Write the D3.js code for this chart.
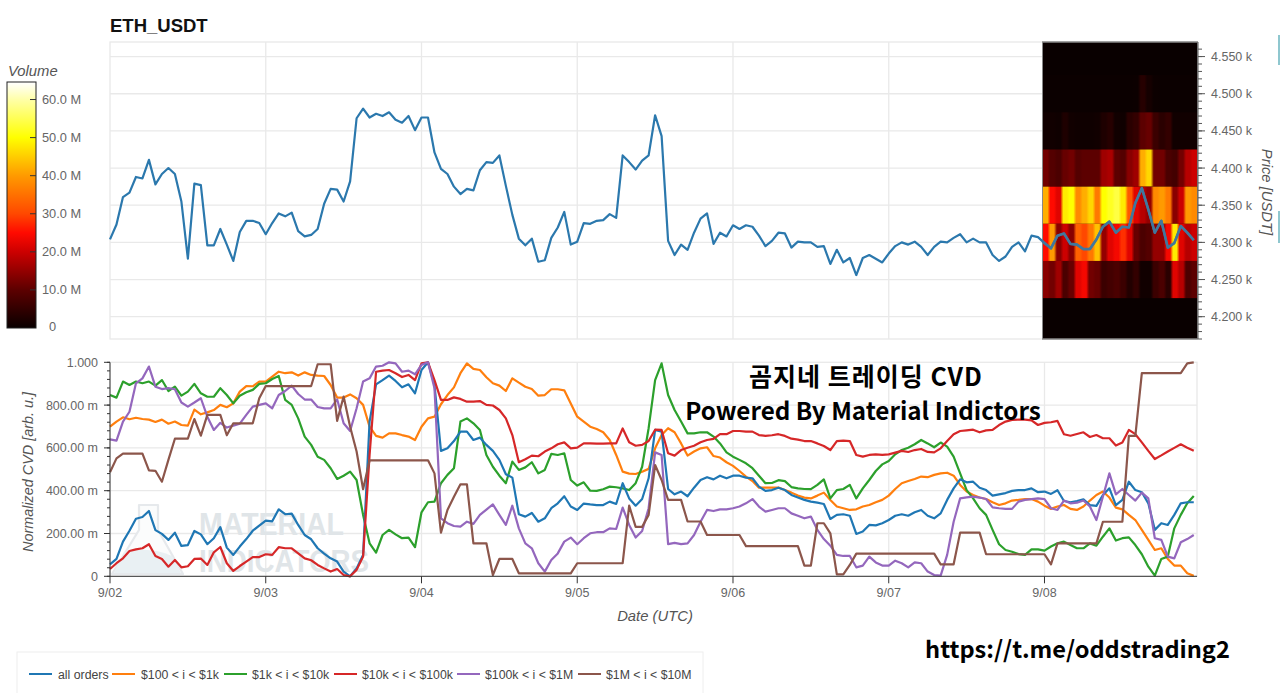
<!DOCTYPE html>
<html><head><meta charset="utf-8">
<script src="https://cdn.jsdelivr.net/npm/d3@7"></script>
<style>html,body{margin:0;padding:0;background:#fff;overflow:hidden}svg{display:block}text{font-family:"Liberation Sans",Arial,sans-serif}</style>
</head><body><svg id="c" width="1280" height="693"></svg>
<script>
const title="ETH_USDT";
const price=[4304,4324,4361,4367,4388,4386,4411,4378,4392,4400,
4392,4355,4278,4379,4377,4296,4296,4318,4297,4275,
4314,4329,4329,4326,4311,4326,4339,4335,4340,4315,
4308,4310,4318,4352,4372,4371,4355,4382,4467,4480,
4468,4473,4470,4475,4465,4461,4470,4451,4468,4468,
4421,4399,4392,4375,4365,4372,4370,4397,4408,4407,
4417,4376,4337,4305,4296,4305,4274,4276,4306,4320,
4341,4297,4301,4326,4325,4329,4330,4338,4333,4417,
4408,4398,4410,4417,4471,4443,4302,4283,4297,4290,
4313,4332,4339,4298,4313,4308,4323,4318,4323,4321,
4309,4295,4302,4313,4312,4293,4301,4300,4300,4294,
4295,4271,4290,4273,4279,4256,4279,4283,4278,4273,
4285,4295,4300,4297,4301,4294,4283,4294,4301,4300,
4306,4311,4300,4305,4300,4300,4283,4275,4281,4294,
4300,4288,4309,4307,4299,4292,4309,4312,4298,4297,
4291,4291,4304,4321,4328,4313,4321,4320,4353,4373,
4344,4313,4329,4293,4299,4322,4313,4303];
const allOrders=[56,81,162,213,269,277,305,216,198,170,
204,142,146,212,196,150,178,230,134,100,
139,174,213,237,260,257,313,290,293,240,
193,173,131,106,84,69,22,0,37,100,
723,897,917,938,913,883,897,855,964,1000,
894,586,598,632,676,676,637,648,614,586,
544,477,461,290,279,296,255,271,318,341,
374,326,310,340,336,333,333,349,338,435,
364,330,361,458,684,676,408,383,396,374,
414,450,463,453,470,458,470,470,461,458,
419,399,403,414,403,380,368,357,349,344,
338,268,287,290,283,198,209,240,238,248,
263,283,290,283,299,310,283,271,294,357,
411,453,439,442,414,403,377,383,389,399,
403,403,411,393,396,385,402,352,346,352,
360,333,329,380,411,333,357,442,403,393,
341,217,248,240,287,341,346,346];
const tier100=[699,723,743,734,741,735,732,721,732,713,
723,707,704,779,757,766,777,801,790,808,
863,889,888,910,910,933,956,949,953,938,
953,941,938,936,894,835,835,850,832,801,
699,656,648,668,668,660,653,637,699,738,
746,804,847,883,949,995,969,964,930,902,
891,866,925,905,886,875,844,847,874,874,
869,808,746,723,699,688,673,637,567,489,
480,478,489,502,598,660,692,673,621,564,
583,598,603,562,555,533,516,492,466,445,
414,414,414,415,403,391,377,368,364,377,
391,357,326,318,310,313,326,333,346,357,
377,408,435,445,455,466,463,474,481,484,
470,427,396,380,368,361,346,333,341,354,
357,361,361,349,330,315,326,333,315,310,
326,354,380,396,368,321,313,287,263,217,
170,123,131,81,50,50,14,2];
const tier1k=[847,835,910,894,910,902,910,891,917,866,
886,844,863,899,855,839,839,879,847,808,
844,860,871,899,902,922,936,824,801,738,
653,614,559,544,505,455,470,489,450,287,
154,111,193,217,196,178,181,136,299,346,
349,435,474,505,723,738,715,684,567,512,
470,435,536,497,509,533,481,497,572,567,
575,450,424,439,400,399,407,419,416,411,
403,435,512,692,917,995,847,777,723,668,
668,673,673,653,621,579,559,544,528,505,
470,435,436,449,445,417,411,408,407,427,
453,364,403,408,427,364,411,450,492,523,
539,570,590,601,617,637,621,603,625,606,
559,481,403,364,318,287,217,150,123,115,
104,100,126,126,120,139,154,162,146,131,
131,154,143,185,224,167,178,182,146,103,
45,3,81,92,224,287,341,375];
const tier10k=[34,61,84,118,126,131,150,95,81,45,
76,42,47,81,83,53,112,137,61,25,
48,69,90,90,103,100,136,131,131,107,
84,75,53,37,22,34,6,0,30,92,
567,956,961,964,949,931,941,917,995,1000,
917,824,824,836,829,816,816,819,801,798,
777,738,660,533,547,564,561,583,598,617,
626,598,601,621,621,620,620,621,621,691,
626,610,614,632,685,684,575,564,590,601,
610,626,637,642,664,664,679,679,676,676,
660,656,659,664,656,643,639,632,632,621,
609,590,632,634,632,567,559,567,570,567,
570,578,586,581,590,595,581,579,598,632,
664,679,682,685,673,682,684,707,723,731,
732,732,729,707,717,720,726,664,657,665,
673,651,660,645,645,611,625,684,664,626,
586,548,565,583,600,617,601,587];
const tier100k=[640,634,723,769,902,925,980,886,875,879,
874,812,793,812,832,746,684,717,695,704,
713,754,793,801,808,785,847,866,891,852,
826,826,791,785,785,827,715,679,785,910,
925,980,984,1000,995,956,961,944,988,1000,
879,271,248,235,232,255,245,287,312,336,
287,240,330,224,154,131,61,22,76,107,
162,181,150,178,201,206,206,224,221,321,
240,181,212,318,579,567,150,156,150,154,
193,255,310,305,313,313,318,326,341,361,
326,302,310,318,318,294,283,271,279,217,
174,143,100,95,95,42,50,92,65,50,
50,73,61,42,65,61,22,6,3,100,
255,364,369,372,368,361,322,318,315,315,
349,357,361,364,361,318,310,354,341,344,
354,326,263,372,481,383,408,380,354,391,
364,178,170,92,84,159,174,193];
const tier1m=[486,551,573,573,573,573,495,493,442,544,
643,643,643,735,657,754,754,754,659,715,
715,715,715,832,889,889,889,889,889,889,
889,889,991,991,991,726,840,699,583,407,
542,542,542,542,542,542,542,542,542,542,
481,204,310,372,430,430,154,154,154,6,
81,81,81,14,14,14,14,14,14,14,
14,14,61,61,61,61,61,61,61,61,
330,231,231,287,520,450,357,357,357,256,
256,256,193,193,193,193,193,193,141,141,
141,141,141,141,141,141,141,50,50,248,
248,201,9,9,53,106,106,106,106,106,
106,106,106,106,106,106,106,106,56,56,
56,204,204,204,204,103,103,103,103,103,
103,103,103,103,103,56,154,154,154,154,
154,154,154,255,255,255,255,656,656,949,
949,949,949,949,949,949,995,1000];
const seriesNames=["all orders","$100 < i < $1k","$1k < i < $10k","$10k < i < $100k","$100k < i < $1M","$1M < i < $10M"];
const seriesColors=["#1f77b4","#ff7f0e","#2ca02c","#d62728","#9467bd","#8c564b"];
const dayLabels=["9/02","9/03","9/04","9/05","9/06","9/07","9/08"];
const priceTicks=[4200,4250,4300,4350,4400,4450,4500,4550];
const cvdTicks=[0,200,400,600,800,1000];
const cvdLabels=["0","200.00 m","400.00 m","600.00 m","800.00 m","1.000"];
const volTicks=[0,10,20,30,40,50,60];
const volLabels=["0","10.0 M","20.0 M","30.0 M","40.0 M","50.0 M","60.0 M"];
// volume by price bucket (M), one value per hour of the last day
const band4500=[.3,.3,.3,.3,.3,.3,.3,.3,.3,.3,.3,.3,.3,.3,.4,3.5,1.5,.4,.3,.3,.3,.3,.3,.3];
const band4450=[1,1,.7,2.5,1,.7,.7,.7,1,2.5,3.5,1,.7,4,5,10,11,6,4,5,1,1,1,1];
const band4400=[12,9,8,11,12,9,10,10,10,16,17,10,9,14,16,42,46,12,12,8,7,12,18,20];
const band4350=[42,25,22,48,50,38,42,46,36,50,52,54,48,32,22,18,15,38,40,36,14,20,40,38];
const band4300=[25,40,14,20,14,33,30,36,44,15,22,24,28,22,11,8,9,15,15,24,48,22,18,20];
const band4250=[14,12,16,8,11,22,24,12,11,6,7,8,6,3,5,1,1,6,8,4,22,18,8,10];
const bandCenters=[4500,4450,4400,4350,4300,4250];
const bands=[band4500,band4450,band4400,band4350,band4300,band4250];
const hotDomain=[0,10,20,25,30,40,50,60,64.5];
const hotColors=["#090000","#5c0000","#cc0000","#ff0a00","#ff4800","#ff9a00","#ffff00","#ffffa8","#ffffff"];

const svg=d3.select("#c");
const defs=svg.append("defs");
const L=110,R=1197,T1=42,B1=339,T2=362.3,B2=576.3;
const t0=Date.UTC(2025,8,2);
const H=3600e3;
const dates=price.map((_,i)=>new Date(t0+i*H));
const x=d3.scaleUtc().domain([new Date(t0),new Date(t0+167.5*H)]).range([L,R]);
const yP=d3.scaleLinear().domain([4170,4569.6]).range([B1,T1]);
const yC=d3.scaleLinear().domain([0,1000]).range([B2,T2]);
const yV=d3.scaleLinear().domain([0,64.6]).range([328,82]);
const hot=d3.scaleLinear().domain(hotDomain).range(hotColors).clamp(true);
const days=dayLabels.map((_,i)=>new Date(t0+i*24*H));
const grid="#e9e9e9";

// top panel frame + grid
const g1=svg.append("g");
g1.append("rect").attr("x",L).attr("y",T1).attr("width",R-L).attr("height",B1-T1).attr("fill","#fff").attr("stroke",grid).attr("stroke-width",1.3);
g1.selectAll(".v").data(days.slice(1)).join("line").attr("x1",d=>x(d)).attr("x2",d=>x(d)).attr("y1",T1).attr("y2",B1).attr("stroke",grid).attr("stroke-width",1.3);
g1.selectAll(".h").data(priceTicks).join("line").attr("x1",L).attr("x2",R).attr("y1",d=>yP(d)).attr("y2",d=>yP(d)).attr("stroke",grid).attr("stroke-width",1.3);

// heatmap
const hx0=1042.5,hx1=R+0.5;
const hm=svg.append("g");
hm.append("rect").attr("x",hx0).attr("y",T1).attr("width",hx1-hx0).attr("height",B1-T1).attr("fill",hot(0)).attr("stroke","#888").attr("stroke-width",1);
bands.forEach((vals,bi)=>{
  const id="b"+bi, gr=defs.append("linearGradient").attr("id",id);
  vals.forEach((v,i)=>{
    const n=vals.length;
    gr.append("stop").attr("offset",(i+.22)/n).attr("stop-color",hot(v));
    gr.append("stop").attr("offset",(i+.78)/n).attr("stop-color",hot(v));
  });
  const c=bandCenters[bi];
  hm.append("rect").attr("x",hx0).attr("width",hx1-hx0).attr("y",yP(c+25)).attr("height",yP(c-25)-yP(c+25)).attr("fill",`url(#${id})`);
});
hm.append("rect").attr("x",hx0).attr("y",T1).attr("width",hx1-hx0).attr("height",B1-T1).attr("fill","none").attr("stroke","#888").attr("stroke-width",1);

// price line
const lineP=d3.line().x((d,i)=>x(dates[i])).y(d=>yP(d));
svg.append("path").attr("d",lineP(price)).attr("fill","none").attr("stroke","#2b78ad").attr("stroke-width",2.2).attr("stroke-linejoin","round");
defs.append("clipPath").attr("id","hc").append("rect").attr("x",hx0).attr("y",T1).attr("width",hx1-hx0).attr("height",B1-T1);
svg.append("path").attr("d",lineP(price)).attr("clip-path","url(#hc)").attr("fill","none").attr("stroke","#41779c").attr("stroke-width",2.6).attr("stroke-linejoin","round");

// right axis
const minorP=d3.range(4170,4570,10);
const axR=svg.append("g").attr("transform",`translate(${R+1},0)`);
axR.append("line").attr("y1",T1).attr("y2",B1).attr("stroke","#555").attr("stroke-width",1);
axR.selectAll(".m").data(minorP).join("line").attr("x2",4).attr("y1",d=>yP(d)).attr("y2",d=>yP(d)).attr("stroke","#555");
axR.selectAll(".M").data(priceTicks).join("line").attr("x2",7).attr("y1",d=>yP(d)).attr("y2",d=>yP(d)).attr("stroke","#555");
axR.selectAll("text").data(priceTicks).join("text").attr("x",13).attr("y",d=>yP(d)+4.5)
  .text(d=>d3.format(".3f")(d/1000)+" k").attr("font-size",12.5).attr("fill","#666");
svg.append("text").attr("transform","translate(1262,192) rotate(90)").attr("text-anchor","middle").attr("font-style","italic").attr("font-size",14.8).attr("fill","#555").text("Price [USDT]");
svg.append("text").attr("x",110).attr("y",32).attr("font-weight","bold").attr("font-size",18.5).attr("fill","#111").text(title);
svg.selectAll(".edge").data([[35,65],[211,243]]).join("rect").attr("x",1278).attr("width",2).attr("y",d=>d[0]).attr("height",d=>d[1]-d[0]).attr("fill","#8fc7cf");

// colour bar
const cbId=defs.append("linearGradient").attr("id","cb").attr("x1",0).attr("x2",0).attr("y1",1).attr("y2",0);
hotDomain.forEach(v=>cbId.append("stop").attr("offset",v/64.6).attr("stop-color",hot(v)));
svg.append("rect").attr("x",7).attr("y",82).attr("width",29).attr("height",246).attr("fill","url(#cb)").attr("stroke","#222").attr("stroke-width",1);
svg.selectAll(".vt").data(volTicks.slice(1)).join("line").attr("x1",30).attr("x2",36).attr("y1",d=>yV(d)).attr("y2",d=>yV(d)).attr("stroke","#333");
svg.selectAll(".vl").data(volTicks).join("text").attr("x",d=>d?42:49).attr("y",d=>yV(d)+(d?4.5:3)).attr("font-size",12.8).attr("fill","#666").text((d,i)=>volLabels[i]);
svg.append("text").attr("x",8).attr("y",76).attr("font-style","italic").attr("font-size",14.8).attr("fill","#555").text("Volume");

// bottom panel
const g2=svg.append("g");
g2.append("rect").attr("x",L).attr("y",T2).attr("width",R-L).attr("height",B2-T2).attr("fill","#fff").attr("stroke",grid).attr("stroke-width",1.3);
g2.selectAll(".v").data(days.slice(1)).join("line").attr("x1",d=>x(d)).attr("x2",d=>x(d)).attr("y1",T2).attr("y2",B2).attr("stroke",grid).attr("stroke-width",1.3);
g2.selectAll(".h").data(cvdTicks.slice(1,5)).join("line").attr("x1",L).attr("x2",R).attr("y1",d=>yC(d)).attr("y2",d=>yC(d)).attr("stroke",grid).attr("stroke-width",1.3);

// watermark (drawn below the lines)
const wm=svg.append("g");
wm.append("path").attr("d","M139 505 L158 505 L158 530 L183 574 L112 574 L139 530 Z").attr("fill","#fbfcfc").attr("stroke","#e6e9ec").attr("stroke-width",2.2).attr("stroke-linejoin","round");
wm.append("path").attr("d","M124 552 Q150 546 172 556 L181 573 L114 573 Z").attr("fill","#e9f0f3");
wm.selectAll("text").data([["MATERIAL",535,145],["INDICATORS",572,170]]).join("text").attr("x",199).attr("y",d=>d[1]).attr("font-weight","bold").attr("font-size",32).attr("fill","#e0e5e8").attr("textLength",d=>d[2]).attr("lengthAdjust","spacingAndGlyphs").text(d=>d[0]);

// cvd lines
const cvd=[allOrders,tier100,tier1k,tier10k,tier100k,tier1m];
const lineC=d3.line().x((d,i)=>x(dates[i])).y(d=>yC(d));
svg.append("g").selectAll("path").data([1,2,0,3,4,5]).join("path").attr("d",k=>lineC(cvd[k])).attr("fill","none").attr("stroke",k=>seriesColors[k]).attr("stroke-width",2.2).attr("stroke-linejoin","round");

// left axis
const axL=svg.append("g").attr("transform",`translate(${L},0)`);
axL.append("line").attr("y1",T2).attr("y2",B2).attr("stroke","#333");
axL.selectAll(".m").data(d3.range(0,1001,40)).join("line").attr("x2",-3).attr("y1",d=>yC(d)).attr("y2",d=>yC(d)).attr("stroke","#333");
axL.selectAll(".M").data(cvdTicks).join("line").attr("x2",-6).attr("y1",d=>yC(d)).attr("y2",d=>yC(d)).attr("stroke","#333");
axL.selectAll("text").data(cvdTicks).join("text").attr("x",-12).attr("y",d=>yC(d)+4.5).attr("text-anchor","end").attr("font-size",12.5).attr("fill","#666").text((d,i)=>cvdLabels[i]);
svg.append("text").attr("transform","translate(33,472) rotate(-90)").attr("text-anchor","middle").attr("font-style","italic").attr("font-size",14.4).attr("fill","#555").text("Normalized CVD [arb. u.]");

// bottom axis
const axB=svg.append("g").attr("transform",`translate(0,${B2})`);
axB.append("line").attr("x1",L).attr("x2",R).attr("stroke","#333");
axB.selectAll(".t").data(days).join("line").attr("x1",d=>x(d)).attr("x2",d=>x(d)).attr("y2",7).attr("stroke","#333");
axB.selectAll("text").data(days).join("text").attr("x",d=>x(d)).attr("y",21).attr("text-anchor","middle").attr("font-size",12.5).attr("fill","#666").text((d,i)=>dayLabels[i]);
svg.append("text").attr("x",655).attr("y",621).attr("text-anchor","middle").attr("font-style","italic").attr("font-size",14.8).attr("fill","#555").text("Date (UTC)");

// legend
svg.append("rect").attr("x",17).attr("y",652).attr("width",686).attr("height",50).attr("fill","#fff").attr("stroke","#eee");
const legX=[[29,52,58],[112,135,141],[224,247,252],[334,357,362],[457,480,485],[578,601,606]];
const lg=svg.append("g");
lg.selectAll("line").data(d3.range(6)).join("line").attr("x1",i=>legX[i][0]).attr("x2",i=>legX[i][1]).attr("y1",674).attr("y2",674).attr("stroke",i=>seriesColors[i]).attr("stroke-width",2);
lg.selectAll("text").data(d3.range(6)).join("text").attr("x",i=>legX[i][2]).attr("y",678.5).attr("font-size",12.3).attr("fill","#444").text(i=>seriesNames[i]);

// overlay captions
const cap='"Noto Sans CJK KR","Noto Sans",sans-serif';
svg.append("text").attr("x",866).attr("y",386).attr("text-anchor","middle").attr("font-weight","bold").attr("font-size",25).attr("letter-spacing",1).style("font-family",cap).attr("fill","#000").text("곰지네 트레이딩 CVD");
svg.append("text").attr("x",863).attr("y",420).attr("text-anchor","middle").attr("font-weight","bold").attr("font-size",24.2).style("font-family",cap).attr("fill","#000").text("Powered By Material Indictors");
svg.append("text").attr("x",1077.5).attr("y",658).attr("text-anchor","middle").attr("font-weight","bold").attr("font-size",23.6).style("font-family",cap).attr("fill","#000").text("https://t.me/oddstrading2");
</script></body></html>
